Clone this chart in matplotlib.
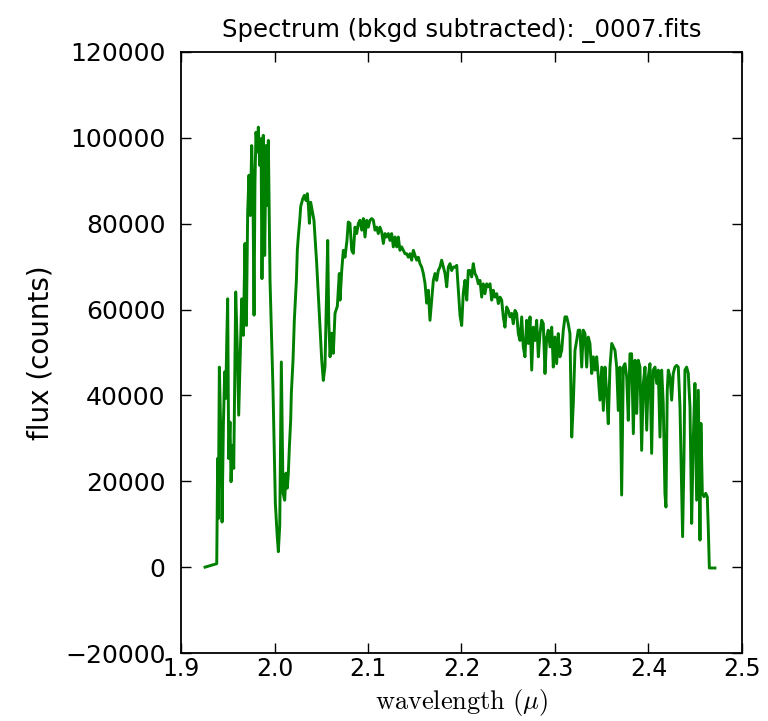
import matplotlib
matplotlib.use("Agg")
import matplotlib.pyplot as plt

# Background-subtracted spectrum of frame _0007
wavelength = [
    1.9257, 1.9382, 1.9392, 1.9399, 1.9410, 1.9424, 1.9439, 1.9453, 1.9467, 1.9478,
    1.9489, 1.9499, 1.9510, 1.9524, 1.9535, 1.9549, 1.9564, 1.9585, 1.9602, 1.9617,
    1.9635, 1.9649, 1.9667, 1.9684, 1.9699, 1.9713, 1.9727, 1.9741, 1.9756, 1.9770,
    1.9781, 1.9791, 1.9802, 1.9816, 1.9827, 1.9841, 1.9856, 1.9866, 1.9880, 1.9895,
    1.9909, 1.9923, 1.9934, 1.9945, 1.9952, 1.9984, 2.0009, 2.0027, 2.0041, 2.0056,
    2.0073, 2.0084, 2.0091, 2.0109, 2.0123, 2.0137, 2.0148, 2.0159, 2.0173, 2.0180,
    2.0198, 2.0212, 2.0223, 2.0234, 2.0244, 2.0255, 2.0270, 2.0280, 2.0302, 2.0319,
    2.0337, 2.0351, 2.0362, 2.0373, 2.0387, 2.0409, 2.0422, 2.0451, 2.0479, 2.0505,
    2.0522, 2.0540, 2.0551, 2.0569, 2.0580, 2.0594, 2.0612, 2.0629, 2.0647, 2.0672,
    2.0693, 2.0701, 2.0719, 2.0736, 2.0754, 2.0775, 2.0789, 2.0807, 2.0826, 2.0843,
    2.0861, 2.0879, 2.0896, 2.0914, 2.0933, 2.0950, 2.0968, 2.0986, 2.1003, 2.1021,
    2.1040, 2.1057, 2.1075, 2.1093, 2.1110, 2.1128, 2.1147, 2.1164, 2.1182, 2.1200,
    2.1217, 2.1235, 2.1253, 2.1271, 2.1289, 2.1307, 2.1324, 2.1342, 2.1360, 2.1378,
    2.1396, 2.1414, 2.1431, 2.1449, 2.1467, 2.1485, 2.1503, 2.1521, 2.1538, 2.1556,
    2.1574, 2.1592, 2.1610, 2.1628, 2.1645, 2.1663, 2.1681, 2.1699, 2.1717, 2.1735,
    2.1752, 2.1770, 2.1788, 2.1806, 2.1824, 2.1842, 2.1859, 2.1877, 2.1895, 2.1913,
    2.1930, 2.1949, 2.1966, 2.1984, 2.2002, 2.2019, 2.2037, 2.2056, 2.2073, 2.2091,
    2.2109, 2.2126, 2.2144, 2.2163, 2.2180, 2.2198, 2.2216, 2.2233, 2.2251, 2.2270,
    2.2287, 2.2305, 2.2323, 2.2340, 2.2358, 2.2377, 2.2394, 2.2412, 2.2430, 2.2447,
    2.2465, 2.2483, 2.2501, 2.2519, 2.2537, 2.2554, 2.2572, 2.2590, 2.2608, 2.2626,
    2.2644, 2.2661, 2.2679, 2.2697, 2.2715, 2.2733, 2.2751, 2.2768, 2.2786, 2.2804,
    2.2822, 2.2840, 2.2858, 2.2875, 2.2893, 2.2911, 2.2928, 2.2947, 2.2965, 2.2982,
    2.3000, 2.3018, 2.3035, 2.3053, 2.3072, 2.3089, 2.3107, 2.3125, 2.3142, 2.3160,
    2.3179, 2.3196, 2.3214, 2.3232, 2.3249, 2.3267, 2.3286, 2.3303, 2.3321, 2.3339,
    2.3356, 2.3374, 2.3393, 2.3410, 2.3428, 2.3446, 2.3463, 2.3481, 2.3500, 2.3517,
    2.3535, 2.3553, 2.3570, 2.3588, 2.3607, 2.3624, 2.3642, 2.3660, 2.3677, 2.3695,
    2.3713, 2.3731, 2.3749, 2.3767, 2.3784, 2.3802, 2.3820, 2.3838, 2.3856, 2.3874,
    2.3891, 2.3909, 2.3927, 2.3945, 2.3963, 2.3981, 2.3998, 2.4016, 2.4034, 2.4051,
    2.4070, 2.4088, 2.4105, 2.4123, 2.4141, 2.4158, 2.4176, 2.4187, 2.4201, 2.4212,
    2.4230, 2.4248, 2.4265, 2.4283, 2.4301, 2.4319, 2.4337, 2.4355, 2.4365, 2.4380,
    2.4390, 2.4408, 2.4426, 2.4444, 2.4462, 2.4479, 2.4497, 2.4515, 2.4533, 2.4551,
    2.4561, 2.4576, 2.4594, 2.4612, 2.4629, 2.4640, 2.4651, 2.4711,
]

flux = [
    0, 800, 25300, 11300, 46600, 32300, 10500, 33000, 45500, 39300,
    52400, 62500, 25300, 33800, 19900, 28400, 23000, 64100, 50900, 35400,
    50900, 62500, 54000, 75400, 56300, 82700, 91300, 81900, 98200, 85800,
    58700, 89700, 101300, 96700, 102500, 93600, 99800, 67200, 100600, 72600,
    98200, 84300, 99400, 78500, 66800, 41200, 14900, 7900, 3600, 9800,
    47800, 29600, 17200, 15600, 21900, 18400, 21900, 28000, 34200, 40500,
    48200, 57500, 62200, 66800, 73800, 77100, 80800, 84000, 85800, 86600,
    85400, 87000, 84300, 80100, 85000, 82400, 80800, 70800, 59100, 48200,
    43500, 46800, 57500, 76100, 57500, 49000, 54500, 49800, 59100, 60800,
    68400, 62200, 69100, 73800, 72200, 76100, 80400, 80100, 73800, 73100,
    79200, 77700, 80000, 80800, 78500, 81200, 76900, 80800, 79200, 80800,
    81200, 80800, 78500, 79200, 77700, 79200, 78000, 75400, 77700, 76900,
    77700, 76100, 77700, 74600, 76900, 74600, 76900, 73800, 74600, 73800,
    73000, 73000, 72200, 73000, 71500, 73800, 72600, 71500, 72200, 70700,
    69900, 68400, 66100, 61500, 64500, 57500, 62200, 66800, 68400, 66800,
    69100, 69900, 71500, 69900, 68400, 65300, 69900, 70700, 69100, 69900,
    69900, 70300, 64500, 58700, 56300, 63800, 66800, 62200, 69100, 69100,
    67600, 70700, 68400, 67600, 66000, 66800, 62900, 66000, 63700, 66000,
    65300, 66000, 62200, 64500, 62900, 63700, 61400, 62900, 62200, 58300,
    55900, 60600, 59800, 58300, 59100, 56700, 59800, 59100, 54400, 52800,
    58300, 51300, 49000, 57500, 52100, 58300, 45900, 55900, 52800, 57500,
    49000, 54400, 57500, 56700, 45100, 53600, 55200, 51300, 55900, 46600,
    53600, 47400, 54400, 49000, 50500, 55200, 58300, 58300, 56700, 54400,
    30300, 38100, 50500, 52800, 55200, 55200, 46600, 55200, 54400, 46600,
    53600, 52100, 45100, 49000, 45900, 49000, 44300, 38900, 46600, 36500,
    46600, 40400, 33400, 46600, 52100, 51300, 50500, 46600, 36500, 46600,
    16800, 46600, 47400, 44300, 34200, 49700, 49700, 31100, 48200, 35800,
    48200, 46600, 27200, 42800, 46600, 31900, 44300, 47400, 26500, 45900,
    46600, 42800, 45900, 30300, 45900, 38100, 17200, 14000, 41200, 45900,
    44300, 38900, 45100, 46600, 47000, 46600, 37300, 17900, 7100, 25700,
    45900, 46600, 45100, 37300, 10200, 29600, 42800, 15600, 41200, 6300,
    33500, 17200, 16400, 17200, 16400, 9000, -200, -200,
]

x_ticks = [1.9, 2.0, 2.1, 2.2, 2.3, 2.4, 2.5]
y_ticks = [-20000, 0, 20000, 40000, 60000, 80000, 100000, 120000]

plt.rcParams["mathtext.fontset"] = "cm"

fig = plt.figure(figsize=(7.68, 7.21), dpi=100)
ax = fig.add_axes([0.2357, 0.0943, 0.7304, 0.8336])

ax.plot(wavelength, flux, color="#008000", linewidth=2.1)

ax.set_xlim(1.9, 2.5)
ax.set_ylim(-20000, 120000)
ax.set_xticks(x_ticks)
ax.set_yticks(y_ticks)
ax.set_xticklabels([f"{t:.1f}" for t in x_ticks])
ax.set_yticklabels([f"{t:d}".replace("-", "\u2212") for t in y_ticks])

ax.tick_params(direction="in", top=True, right=True, length=7, width=1)
ax.tick_params(axis="x", pad=3, labelsize=17)
ax.tick_params(axis="y", pad=11, labelsize=18)
for s in ax.spines.values():
    s.set_linewidth(1.3)

ax.set_title("Spectrum (bkgd subtracted): _0007.fits", fontsize=17.5, pad=11)
ax.set_xlabel(r"$\mathrm{wavelength}\ (\mu)$", fontsize=19, labelpad=4)
ax.set_ylabel("flux (counts)", fontsize=20, labelpad=8)

fig.savefig("out.png", dpi=100)
